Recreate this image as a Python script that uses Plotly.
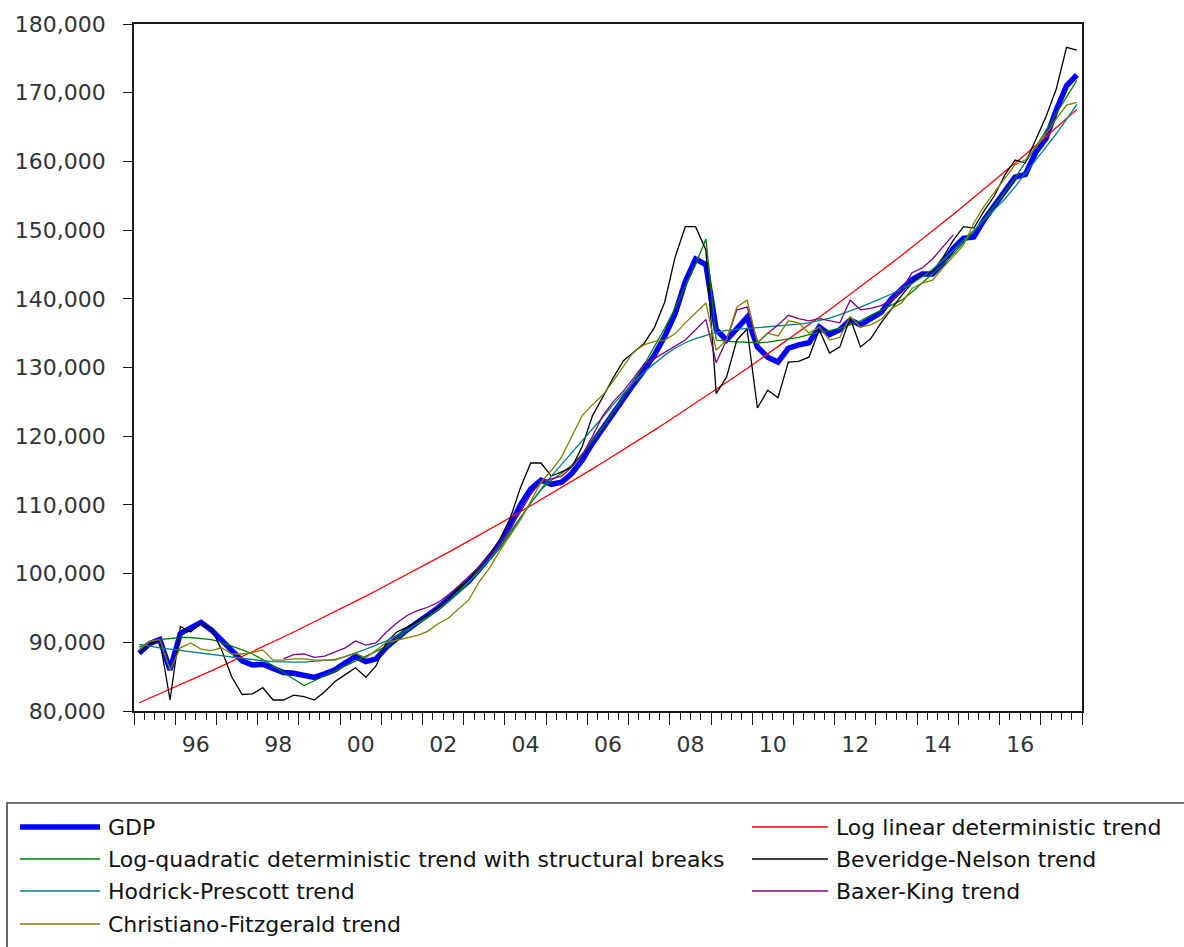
import pandas as pd
import plotly.graph_objects as go

# Quarterly sample 1995Q1 - 2017Q4
quarters = pd.period_range("1995Q1", "2017Q4", freq="Q")

gdp = [88400, 89800, 90400, 86000, 91300, 92000, 92900, 91800, 90300, 88600,
       87300, 86700, 86800, 86200, 85600, 85500, 85200, 84900, 85400, 86000,
       87000, 87900, 87200, 87600, 89300, 90600, 91800, 92900, 93900, 95000,
       96300, 97600, 98900, 100600, 102300, 104200, 107000, 110000, 112300, 113600,
       113000, 113300, 114600, 116500, 119000, 121200, 123500, 125500, 127600, 129600,
       131800, 134500, 137800, 142500, 145800, 145000, 135500, 134000, 135800, 137300,
       133000, 131500, 130800, 132800, 133300, 133600, 135900, 134800, 135500, 136900,
       136200, 137200, 138000, 140000, 141500, 142800, 143600, 143600, 145200, 147300,
       148800, 149000, 151500, 153600, 155500, 157700, 158100, 161300, 163300, 167500,
       171000, 172600]

log_linear = [81200, 81850, 82500, 83160, 83830, 84500, 85170, 85850, 86540, 87230,
              87920, 88630, 89340, 90050, 90770, 91500, 92230, 92960, 93700, 94450,
              95210, 95970, 96730, 97510, 98290, 99070, 99860, 100660, 101470, 102280,
              103090, 103920, 104750, 105590, 106430, 107280, 108140, 109000, 109870, 110750,
              111640, 112530, 113430, 114330, 115250, 116170, 117090, 118030, 118980, 119930,
              120880, 121850, 122830, 123810, 124800, 125800, 126800, 127810, 128830, 129860,
              130910, 131950, 133000, 134070, 135140, 136220, 137310, 138400, 139510, 140620,
              141750, 142880, 144030, 145180, 146330, 147500, 148680, 149870, 151070, 152270,
              153490, 154720, 155950, 157200, 158460, 159720, 161000, 162290, 163590, 164890,
              166210, 167540]

log_quad_breaks = [89300, 90000, 90400, 90600, 90700, 90700, 90600, 90400, 90000, 89500,
                   88900, 88300, 87500, 86600, 85600, 84600, 83700, 84400, 85100, 85800,
                   86500, 87200, 87900, 88600, 89400, 90500, 91700, 92800, 93800, 95000,
                   96200, 97500, 98900, 100400, 102000, 103800, 105800, 108000, 110300, 112200,
                   113600, 114600, 115800, 117400, 119300, 121300, 123500, 125700, 128000, 130400,
                   133000, 135700, 138600, 141700, 145000, 148700, 134000, 133800, 133700, 133600,
                   133600, 133700, 133900, 134200, 134400, 134800, 135100, 135400, 135700, 136200,
                   136800, 137600, 138300, 139000, 139800, 141000, 142300, 143600, 145000, 146500,
                   148100, 149800, 151600, 153500, 155500, 157600, 159800, 162100, 164500, 167000,
                   169500, 171800]

beveridge_nelson = [88400, 89800, 90400, 81600, 92300, 91500, 92800, 92000, 88900, 84900,
                    82400, 82500, 83400, 81600, 81600, 82300, 82100, 81600, 82800, 84300,
                    85300, 86300, 84900, 86600, 90000, 91500, 92200, 93000, 93900, 95000,
                    96300, 97800, 99200, 101000, 102800, 105000, 108000, 112500, 116100, 116100,
                    114200, 114800, 115500, 118500, 123000, 125700, 128500, 131000, 132200, 133500,
                    135800, 139500, 146000, 150500, 150500, 147100, 126200, 128600, 134000, 135600,
                    124100, 126700, 125600, 130800, 130900, 131500, 135500, 132100, 133000, 137200,
                    133000, 134200, 136500, 138500, 140500, 142300, 143500, 144000, 146000, 148500,
                    150500, 150300, 152800, 155000, 158000, 160200, 159800, 163100, 166500, 170500,
                    176600, 176200]

hodrick_prescott = [89700, 89400, 89200, 89000, 88800, 88600, 88500, 88300, 88100, 87900,
                    87700, 87500, 87300, 87200, 87100, 87100, 87100, 87200, 87300, 87500,
                    87900, 88400, 89000, 89600, 90200, 91000, 91800, 92700, 93600, 94700,
                    95900, 97200, 98700, 100300, 102100, 104000, 106100, 108200, 110300, 112300,
                    114200, 115900, 117600, 119300, 121000, 122800, 124600, 126300, 127900, 129300,
                    130600, 131800, 132800, 133600, 134200, 134700, 135100, 135400, 135600, 135700,
                    135800, 135900, 136000, 136100, 136300, 136500, 136800, 137200, 137700, 138200,
                    138800, 139400, 140000, 140700, 141400, 142200, 143200, 144300, 145600, 147000,
                    148500, 150000, 151500, 153000, 154500, 156300, 158200, 160100, 162000, 164000,
                    166100, 168300]

# Band-pass filter: no trend at the first and last quarters of the sample
baxter_king = [None] * 14 + [
    87600, 88200, 88300, 87800, 88000, 88600,
    89200, 90200, 89600, 89900, 91500, 92800, 93900, 94600, 95100, 95800,
    96900, 98200, 99600, 101000, 102600, 104300, 106500, 109000, 111500, 113400,
    113800, 114200, 115500, 117300, 120000, 123000, 125000, 126600, 128500, 130500,
    131300, 132200, 133200, 134000, 135500, 137000, 130700, 134000, 138400, 138800,
    133600, 135000, 136200, 137600, 137100, 136800, 137100, 136800, 136500, 139800,
    138400, 138600, 139000, 139800, 141300, 143800, 144500, 145800, 147500, 149300] + [None] * 12

christiano_fitzgerald = [88900, 90100, 90400, 86000, 89200, 89900, 89000, 88800, 89200, 88300,
                         88300, 88500, 88900, 87400, 87400, 87600, 87600, 87400, 87400, 87400,
                         87900, 88400, 87700, 88900, 90000, 90300, 90600, 91000, 91600, 92700,
                         93500, 94800, 96200, 98800, 100800, 103300, 105500, 107800, 110500, 113300,
                         115000, 117000, 120000, 123000, 124600, 126000, 128000, 130200, 132300, 133300,
                         133800, 134000, 134900, 136500, 137900, 139400, 132500, 134000, 138800, 139800,
                         133600, 135000, 134600, 136800, 136500, 135000, 135900, 134000, 134400, 137400,
                         135900, 136200, 137000, 138600, 139400, 141500, 142300, 142700, 144500, 146200,
                         147800, 151000, 153500, 155500, 157500, 159500, 160200, 162000, 164000, 166200,
                         168200, 168600]

series = [
    ("GDP", gdp, "#0000FF", 5.5),
    ("Log linear deterministic trend", log_linear, "#FF0000", 1.3),
    ("Log-quadratic deterministic trend with structural breaks", log_quad_breaks, "#008000", 1.3),
    ("Beveridge-Nelson trend", beveridge_nelson, "#000000", 1.3),
    ("Hodrick-Prescott trend", hodrick_prescott, "#008080", 1.3),
    ("Baxer-King trend", baxter_king, "#800080", 1.3),
    ("Christiano-Fitzgerald trend", christiano_fitzgerald, "#808000", 1.3),
]

# Each quarter is drawn in the middle of its slot on a decimal-year axis
xpos = [q.year + (q.quarter - 1) / 4 + 0.125 for q in quarters]

year_labels = [f"{y % 100:02d}" for y in range(1996, 2017, 2)]
year_label_pos = [y + 0.5 for y in range(1996, 2017, 2)]

FONT = "DejaVu Sans"
W, H = 1184, 947
L, R, T, B = 134, 102, 24, 236

fig = go.Figure()
for name, vals, color, width in series:
    fig.add_trace(go.Scatter(x=xpos, y=vals, name=name, mode="lines",
                             line=dict(color=color, width=width),
                             connectgaps=False, hoverinfo="skip"))

# invisible helper so the label axis is laid out
fig.add_trace(go.Scatter(x=[year_label_pos[0]], y=[80000], xaxis="x2", mode="markers",
                         marker=dict(opacity=0), hoverinfo="skip", showlegend=False))

axis_col = "#1a1a1a"
fig.update_layout(
    width=W, height=H,
    margin=dict(l=L, r=R, t=T, b=B, autoexpand=False),
    paper_bgcolor="white", plot_bgcolor="white",
    showlegend=False,
    font=dict(family=FONT, size=22, color="#333"),
    xaxis=dict(range=[1995, 2018], tickmode="linear", tick0=1995, dtick=1,
               ticks="outside", ticklen=12, tickwidth=1.3, tickcolor=axis_col,
               showticklabels=False, showline=True, linecolor=axis_col, linewidth=1.6,
               mirror=True, showgrid=False, zeroline=False,
               minor=dict(ticks="outside", ticklen=7, tickwidth=1.3, tickcolor=axis_col,
                          tick0=1995, dtick=0.25, showgrid=False)),
    xaxis2=dict(overlaying="x", anchor="y", side="bottom", range=[1995, 2018],
                tickmode="array", tickvals=year_label_pos, ticktext=year_labels,
                ticks="", showline=False, showgrid=False, zeroline=False,
                ticklabelstandoff=18, tickfont=dict(family=FONT, size=22, color="#333")),
    yaxis=dict(range=[80000, 180000], tickmode="linear", tick0=80000, dtick=10000,
               tickformat=",", ticks="outside", ticklen=9, tickwidth=1.3,
               tickcolor=axis_col, showline=True, linecolor=axis_col, linewidth=1.6,
               mirror=True, showgrid=False, zeroline=False, ticklabelstandoff=13,
               tickfont=dict(family=FONT, size=22, color="#333")),
)

# Legend box below the plot, two columns
pw, ph = W - L - R, H - T - B
def px(x):
    return (x - L) / pw
def py(y):
    return (H - B - y) / ph

shapes = [dict(type="rect", xref="paper", yref="paper",
               x0=px(7), x1=px(1200), y0=py(803), y1=py(960),
               line=dict(color="#444", width=1.6), fillcolor="white", layer="below")]
annotations = []
rows = [827, 859, 891, 924]
cols = [(20, 100, 106), (752, 828, 834)]
for k, (name, vals, color, width) in enumerate(series):
    r, c = divmod(k, 2)
    x0, x1, xt = cols[c]
    y = rows[r]
    shapes.append(dict(type="line", xref="paper", yref="paper",
                       x0=px(x0), x1=px(x1), y0=py(y), y1=py(y),
                       line=dict(color=color, width=5.5 if width > 3 else 1.6)))
    annotations.append(dict(xref="paper", yref="paper", x=px(xt), y=py(y),
                            text=name, showarrow=False, xanchor="left", yanchor="middle",
                            font=dict(family=FONT, size=22, color="#111")))

fig.update_layout(shapes=shapes, annotations=annotations)
fig.write_html("out.html")
